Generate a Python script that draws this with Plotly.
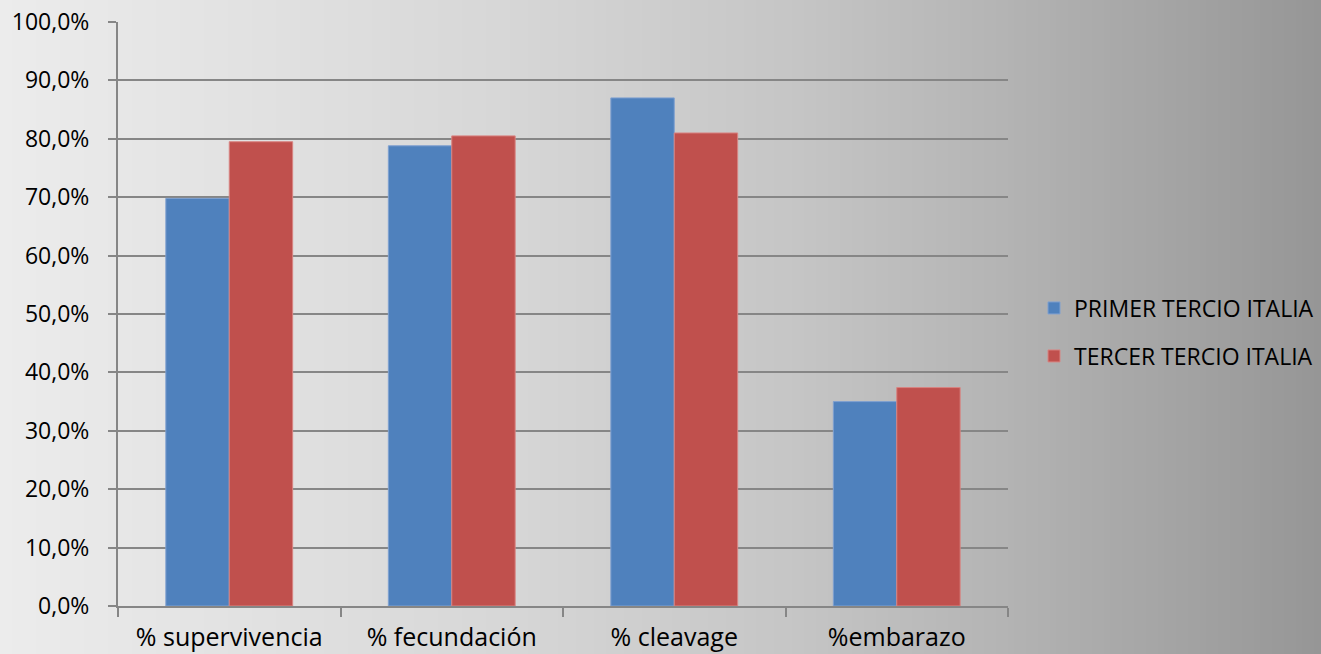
import plotly.graph_objects as go
import numpy as np

categories = ["% supervivencia", "% fecundación", "% cleavage", "%embarazo"]
primer = [69.8, 78.8, 87.0, 35.0]
tercer = [79.5, 80.5, 81.0, 37.4]
series_names = ["PRIMER TERCIO ITALIA", "TERCER TERCIO ITALIA"]

W, H = 1321, 654
ml, mr, mt, mb = 118, 313, 22, 48
pw = W - ml - mr
ph = H - mt - mb

fig = go.Figure()
fig.add_trace(go.Bar(x=categories, y=primer, name=series_names[0],
                     marker=dict(color="#4F81BD", line=dict(color="#7FA0D0", width=1)),
                     legend="legend"))
fig.add_trace(go.Bar(x=categories, y=tercer, name=series_names[1],
                     marker=dict(color="#C0504D", line=dict(color="#D88482", width=1)),
                     legend="legend2"))

# background horizontal gradient
stops_px = [0, 500, 800, 1000, 1321]
stops_v = [236, 215, 197, 180, 150]
shapes = []
step = 6
for px in range(0, W, step):
    v = int(round(np.interp(px + step / 2, stops_px, stops_v)))
    c = f"rgb({v},{v},{v})"
    shapes.append(dict(type="rect", xref="paper", yref="paper",
                       x0=(px - ml) / pw, x1=(px + step + 1 - ml) / pw,
                       y0=-mb / ph - 0.02, y1=1 + mt / ph + 0.02,
                       fillcolor=c, line=dict(width=0), layer="below"))

font = "'Open Sans', sans-serif"
leg_x = (1034 - ml) / pw
fig.update_layout(
    width=W, height=H,
    margin=dict(l=ml, r=mr, t=mt, b=mb, autoexpand=False),
    paper_bgcolor="rgb(200,200,200)",
    plot_bgcolor="rgba(0,0,0,0)",
    separators=",.",
    barmode="group",
    bargap=0.43,
    bargroupgap=0,
    shapes=shapes,
    font=dict(family=font, size=22, color="#000000"),
    showlegend=True,
    legend=dict(x=leg_x, y=(606 - 308) / ph, xanchor="left", yanchor="middle",
                bgcolor="rgba(0,0,0,0)", font=dict(size=23), itemwidth=30),
    legend2=dict(x=leg_x, y=(606 - 356) / ph, xanchor="left", yanchor="middle",
                 bgcolor="rgba(0,0,0,0)", font=dict(size=23), itemwidth=30),
    xaxis=dict(showline=True, linecolor="#868686", linewidth=2,
               ticks="outside", tickson="boundaries", ticklen=9, tickwidth=1.5,
               tickcolor="#868686", showgrid=False, automargin=False,
               tickfont=dict(size=25), ticklabelstandoff=8),
    yaxis=dict(range=[0, 100], dtick=10, tickformat=".1f", ticksuffix="%",
               showline=True, linecolor="#868686", linewidth=2,
               ticks="outside", ticklen=8, tickwidth=2, tickcolor="#868686",
               showgrid=True, gridcolor="#868686", gridwidth=2, automargin=False,
               zeroline=False, tickfont=dict(size=23), ticklabelstandoff=14),
)

fig.write_html("out.html", config={"displayModeBar": False},
               post_script="document.body.style.margin='0';document.body.style.padding='0';document.body.style.overflow='hidden';")
